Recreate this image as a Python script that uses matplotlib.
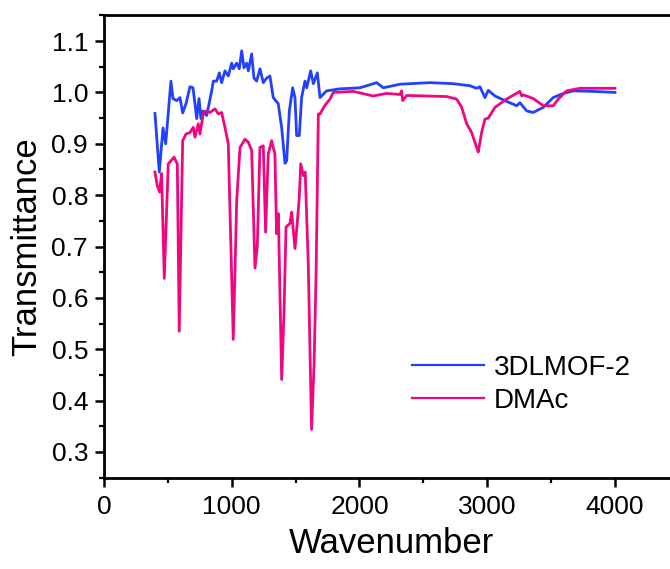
import matplotlib
matplotlib.use('Agg')
import matplotlib.pyplot as plt
from matplotlib.ticker import MultipleLocator

# ---- data (wavenumber, transmittance) ----
mof_x = [399, 433, 462, 483, 524, 540, 569, 595, 616, 642, 673, 697, 712, 726, 744,
         759, 775, 804, 843, 856, 882, 903, 921, 947, 973, 1000, 1012, 1039, 1059,
         1078, 1096, 1117, 1130, 1156, 1174, 1195, 1221, 1247, 1274, 1299, 1325, 1364,
         1391, 1417, 1430, 1451, 1477, 1495, 1508, 1529, 1547, 1573, 1587, 1618, 1639,
         1670, 1691, 1743, 1847, 2004, 2135, 2186, 2317, 2552, 2734, 2865, 2917, 2943,
         2982, 3008, 3061, 3139, 3231, 3256, 3309, 3361, 3439, 3517, 3595, 3674, 3830,
         4000]
mof_y = [0.959, 0.845, 0.931, 0.900, 1.022, 0.988, 0.984, 0.990, 0.960, 0.978, 1.011,
         1.009, 0.978, 0.949, 0.988, 0.949, 0.964, 0.955, 1.003, 1.022, 1.022, 1.038,
         1.019, 1.042, 1.032, 1.057, 1.046, 1.057, 1.046, 1.081, 1.048, 1.057, 1.042,
         1.075, 1.028, 1.022, 1.046, 1.019, 1.028, 1.032, 0.990, 0.978, 0.931, 0.862,
         0.867, 0.964, 1.009, 0.990, 0.916, 0.916, 0.990, 1.022, 1.009, 1.042, 1.017,
         1.038, 0.990, 1.003, 1.007, 1.009, 1.019, 1.009, 1.016, 1.019, 1.017, 1.013,
         1.008, 1.011, 0.990, 1.004, 0.993, 0.984, 0.974, 0.980, 0.964, 0.961, 0.971,
         0.990, 0.998, 1.003, 1.002, 1.000]

dmac_x = [399, 417, 435, 451, 472, 503, 525, 548, 574, 589, 616, 642, 673, 699, 712,
          738, 751, 777, 798, 830, 869, 895, 921, 947, 973, 1012, 1039, 1065, 1104,
          1130, 1156, 1182, 1200, 1221, 1247, 1265, 1286, 1312, 1338, 1351, 1365, 1391,
          1409, 1425, 1456, 1469, 1495, 1508, 1529, 1540, 1561, 1575, 1599, 1625, 1644,
          1660, 1678, 1691, 1730, 1769, 1795, 1951, 2108, 2210, 2317, 2330, 2338, 2370,
          2682, 2761, 2800, 2839, 2878, 2917, 2930, 2956, 2982, 3008, 3061, 3152, 3256,
          3270, 3285, 3361, 3439, 3517, 3556, 3622, 3726, 4000]
dmac_y = [0.845, 0.819, 0.806, 0.842, 0.638, 0.861, 0.867, 0.874, 0.861, 0.535, 0.906,
          0.919, 0.922, 0.932, 0.913, 0.939, 0.919, 0.958, 0.964, 0.961, 0.968, 0.958,
          0.961, 0.932, 0.900, 0.519, 0.790, 0.893, 0.909, 0.903, 0.887, 0.658, 0.700,
          0.893, 0.896, 0.728, 0.880, 0.906, 0.880, 0.725, 0.764, 0.441, 0.570, 0.738,
          0.745, 0.767, 0.696, 0.732, 0.796, 0.861, 0.838, 0.845, 0.667, 0.344, 0.467,
          0.641, 0.958, 0.958, 0.975, 0.987, 1.000, 1.002, 0.993, 0.998, 0.996, 1.003,
          0.984, 0.994, 0.992, 0.987, 0.971, 0.939, 0.922, 0.893, 0.884, 0.922, 0.948,
          0.950, 0.971, 0.987, 1.002, 0.993, 0.995, 0.988, 0.974, 0.974, 0.987, 1.003,
          1.008, 1.008]

labels = ['3DLMOF-2', 'DMAc']
colors = ['#2140ff', '#f0077f']

plt.rcParams['font.family'] = ['Liberation Sans', 'DejaVu Sans']

fig = plt.figure(figsize=(6.7, 5.69), dpi=100)
# axes run past the right edge, like the cropped original
ax = fig.add_axes([0.1552, 0.1605, 0.858, 0.8125])

ax.plot(mof_x, mof_y, color=colors[0], lw=2.0, label=labels[0])
ax.plot(dmac_x, dmac_y, color=colors[1], lw=2.0, label=labels[1])

ax.set_xlim(0, 4500)
ax.set_ylim(0.25, 1.15)
ax.xaxis.set_major_locator(MultipleLocator(1000))
ax.xaxis.set_minor_locator(MultipleLocator(500))
ax.yaxis.set_major_locator(MultipleLocator(0.1))
ax.yaxis.set_minor_locator(MultipleLocator(0.05))

for s in ax.spines.values():
    s.set_linewidth(2)
ax.tick_params(which='major', direction='out', length=6.5, width=1.8,
               labelsize=19, pad=5)
ax.tick_params(which='minor', direction='out', length=3.5, width=1.6)
ax.tick_params(axis='x', which='major', pad=6)

ax.set_xlabel('Wavenumber', fontsize=25, labelpad=6)
ax.set_ylabel('Transmittance', fontsize=25, labelpad=6)

leg = ax.legend(loc='center left', bbox_to_anchor=(0.536, 0.2025), frameon=False,
                fontsize=20, handlelength=2.6, handletextpad=0.35, labelspacing=0.25,
                borderpad=0, borderaxespad=0)
for h in leg.get_lines():
    h.set_linewidth(1.6)

fig.savefig('out.png', dpi=100)
